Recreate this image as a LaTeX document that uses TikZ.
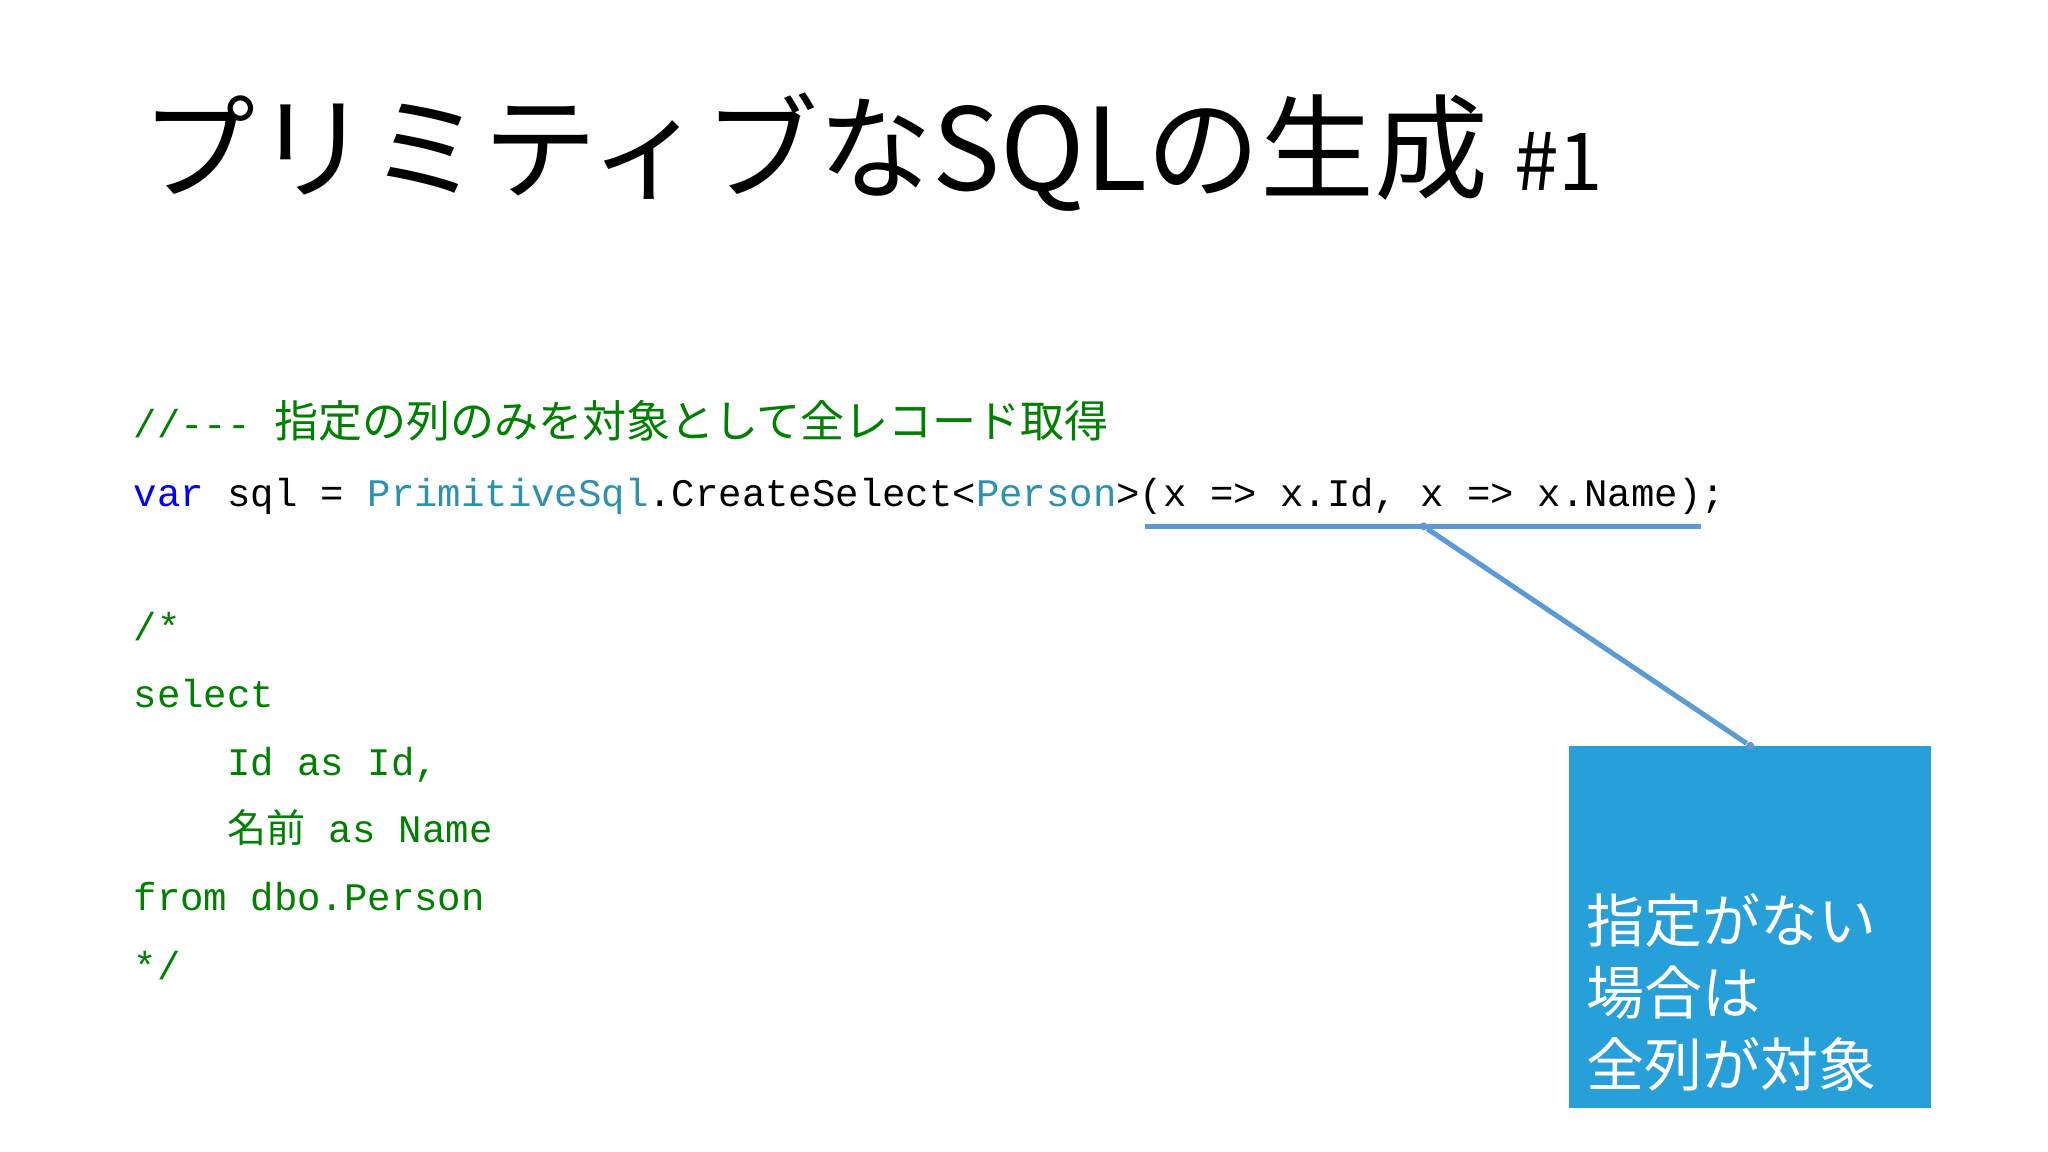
\documentclass[tikz,border=0pt]{standalone}
\usepackage{fontspec}
\setmonofont{Liberation Mono}
\newfontfamily\cjk{Noto Sans CJK JP}
\definecolor{cgreen}{HTML}{008000}
\definecolor{cblue}{HTML}{0000FF}
\definecolor{cteal}{HTML}{2B91AF}
\definecolor{boxblue}{HTML}{279FD9}
\definecolor{lineblue}{HTML}{5B9BD5}
\tikzset{code/.style={anchor=base west,inner sep=0pt,font=\ttfamily\fontsize{19.5pt}{23pt}\selectfont},
 dotc/.style={circle,fill=lineblue,inner sep=0pt,minimum size=4pt}}
\begin{document}
\begin{tikzpicture}[x=0.6531pt,y=-0.6531pt]
\useasboundingbox[fill=white] (0,0) rectangle (1568,882);
\node[anchor=base west,inner sep=0pt,font=\cjk\fontsize{57pt}{60pt}\selectfont] (title) at (108,146) {プリミティブなSQLの生成 {\fontsize{40pt}{44pt}\selectfont \#1}};
\node[code,text=cgreen] (c1) at (102,335) {//--- {\cjk\fontsize{22pt}{24pt}\selectfont 指定の列のみを対象として全レコード取得}};
\node[code] (c2) at (102,388) {\textcolor{cblue}{var} sql = \textcolor{cteal}{PrimitiveSql}.CreateSelect<\textcolor{cteal}{Person}>(x => x.Id, x => x.Name);};
\node[code,text=cgreen] (c3) at (102,490) {/*};
\node[code,text=cgreen] (c4) at (102,542) {select};
\node[code,text=cgreen] (c5) at (102,594) {\ \ \ \ Id as Id,};
\node[code,text=cgreen] (c6) at (102,645) {\ \ \ \ {\cjk 名前} as Name};
\node[code,text=cgreen] (c7) at (102,697) {from dbo.Person};
\node[code,text=cgreen] (c8) at (102,750) {*/};
\coordinate (ul) at (877,403);
\coordinate (ur) at (1302,403);
\node[dotc] (d1) at (1090,403) {};
\draw[lineblue,line width=2.5pt] (ul) -- (ur);
\node[fill=boxblue,minimum width=277*0.6531pt,minimum height=277*0.6531pt,anchor=north west,inner sep=0pt] (box) at (1201,571) {};
\node[dotc] (d2) at (1340,571) {};
\draw[lineblue,line width=2.5pt] (d1) -- (d2);
\node[anchor=north west,align=left,text=white,inner sep=0pt,font=\cjk\fontsize{29pt}{36pt}\selectfont] (bt) at (1214,684) {指定がない\\場合は\\全列が対象};
\end{tikzpicture}
\end{document}
